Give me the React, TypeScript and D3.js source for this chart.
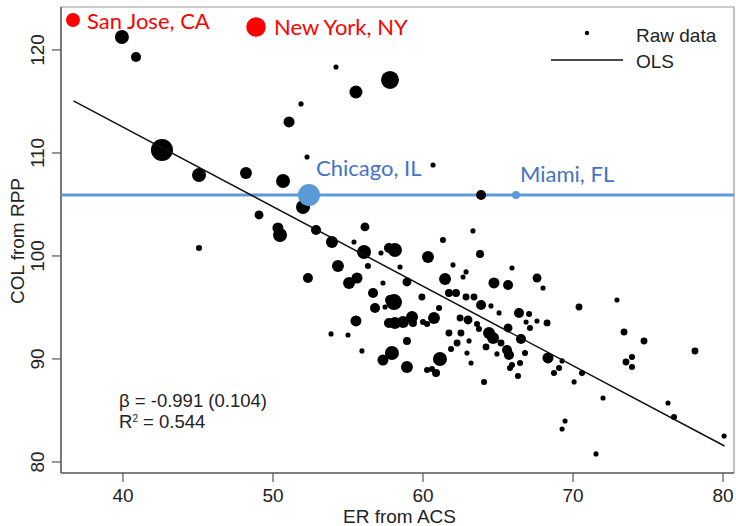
import React from 'react';
import * as d3 from 'd3';

// metro areas: ER from ACS, COL from RPP, weight (dot size)
const erACS = [
  39.93, 40.87, 54.2, 55.53, 51.87, 51.07, 42.6, 52.27, 45.07, 48.2, 50.67, 52.0, 49.07, 50.33, 50.47,
  52.87, 56.13, 55.4, 53.93, 56.07, 45.07, 57.8, 60.67, 63.87, 63.33, 61.33, 58.13, 57.73, 57.2, 60.33,
  63.8, 54.33, 52.33, 55.07, 55.6, 55.53, 53.87, 55.0, 55.93, 56.33, 58.47, 57.33, 58.93, 61.47, 62.0,
  62.87, 62.67, 56.67, 56.8, 57.47, 58.07, 57.8, 59.93, 61.07, 60.73, 57.73, 58.13, 58.67, 59.27, 59.33,
  60.0, 60.27, 58.93, 57.93, 57.33, 58.93, 61.13, 60.27, 60.6, 60.87, 61.73, 62.47, 62.53, 63.0, 63.07,
  62.27, 61.87, 62.93, 63.2, 63.6, 63.73, 61.73, 62.2, 62.87, 63.4, 65.93, 67.6, 68.0, 64.73, 65.67,
  63.87, 64.53, 65.07, 66.4, 67.07, 66.87, 67.6, 67.13, 68.27, 65.67, 66.53, 66.8, 68.33, 69.27, 69.07,
  68.73, 70.6, 70.07, 66.33, 65.8, 65.93, 64.07, 66.47, 70.4, 72.93, 73.4, 74.73, 73.53, 73.93, 73.93,
  78.13, 72.0, 76.33, 76.73, 69.47, 69.27, 71.53, 80.07, 64.4, 64.67, 65.2, 64.2, 64.93, 65.6, 65.73
];
const colRPP = [
  121.26, 119.32, 118.35, 115.92, 114.76, 113.01, 110.29, 109.61, 107.86, 108.06, 107.28, 104.76, 103.98, 102.72, 102.04,
  102.52, 102.82, 101.36, 101.36, 100.39, 100.78, 117.09, 108.83, 105.92, 102.43, 101.55, 100.58, 100.78, 100.29, 99.9,
  100.19, 99.03, 97.86, 97.38, 97.86, 93.69, 92.43, 92.33, 90.78, 99.03, 98.93, 97.38, 97.48, 97.77, 99.13,
  98.45, 97.96, 96.41, 94.95, 95.05, 95.53, 95.73, 96.02, 94.95, 93.98, 93.5, 93.5, 93.59, 94.08, 93.5,
  93.59, 93.4, 91.75, 90.58, 89.9, 89.22, 90.0, 88.93, 89.03, 88.64, 92.52, 93.98, 92.52, 93.79, 91.75,
  91.55, 90.97, 90.58, 89.61, 93.4, 92.91, 96.41, 96.41, 96.02, 96.02, 98.83, 97.86, 96.89, 97.38, 97.18,
  95.24, 95.15, 94.47, 94.47, 94.37, 93.59, 93.69, 93.01, 93.5, 93.01, 91.94, 90.58, 90.1, 89.81, 89.13,
  88.64, 88.64, 87.77, 88.35, 89.13, 89.42, 87.77, 89.61, 95.05, 95.73, 92.62, 91.75, 89.71, 90.19, 89.22,
  90.78, 86.21, 85.73, 84.37, 83.98, 83.2, 80.78, 82.52, 92.52, 92.04, 91.55, 91.17, 90.49, 90.87, 90.39
];
const weight = [
  3.7, 1.9, 0.5, 3.2, 0.5, 2.3, 9.2, 0.5, 3.7, 2.7, 3.7, 3.7, 1.5, 2.3, 3.7,
  1.9, 1.5, 0.5, 2.7, 3.7, 0.7, 6.1, 0.5, 1.9, 0.5, 0.7, 3.7, 1.9, 0.5, 2.7,
  1.2, 2.7, 1.9, 2.7, 2.3, 2.3, 0.5, 0.5, 0.5, 0.7, 0.5, 0.5, 1.5, 2.7, 0.5,
  0.5, 0.5, 1.9, 1.9, 0.5, 4.8, 1.9, 0.9, 0.7, 2.7, 1.9, 2.7, 2.7, 2.7, 1.2,
  0.7, 0.7, 1.2, 3.7, 2.3, 2.7, 3.7, 0.7, 0.7, 1.2, 0.9, 0.9, 0.9, 1.5, 0.5,
  0.9, 0.7, 0.5, 0.5, 0.7, 0.7, 1.2, 1.2, 0.9, 0.9, 0.5, 1.5, 0.5, 2.3, 1.9,
  1.9, 0.5, 0.5, 1.9, 0.7, 0.5, 0.5, 0.7, 0.9, 1.5, 1.9, 0.7, 2.3, 0.5, 0.7,
  0.7, 0.7, 0.5, 0.7, 0.7, 0.7, 0.7, 0.7, 0.9, 0.5, 0.9, 0.9, 0.9, 0.7, 0.7,
  0.9, 0.5, 0.5, 0.7, 0.5, 0.5, 0.5, 0.5, 2.7, 2.7, 0.9, 0.9, 0.5, 1.9, 1.9
];

// highlighted cities
const redCities = ['San Jose, CA', 'New York, NY'];
const redX = [36.67, 48.87];
const redY = [122.91, 122.23];
const redW = [3.7, 7.2];

const blueCities = ['Chicago, IL', 'Miami, FL'];
const blueX = [52.4, 66.2];
const blueW = [9.2, 1.2];
const blueLevel = 105.92;

// OLS fit endpoints
const olsX = [36.7, 80.1];
const olsY = [115.05, 81.55];

const xTicks = [40, 50, 60, 70, 80];
const yTicks = [80, 90, 100, 110, 120];

const W = 736, H = 526;
const L = 61, R = 734, T = 7, B = 473;
const helv = '"Liberation Sans", Arial, Helvetica, sans-serif';
const cal = 'Lato, "Open Sans", sans-serif';

export default function App() {
  const x = d3.scaleLinear().domain([35.87, 80.73]).range([L, R]);
  const y = d3.scaleLinear().domain([78.93, 124.17]).range([B, T]);
  const r = d3.scaleSqrt().domain([0, 10]).range([0, 11.5]);
  const line = d3.line<number>().x((d, i) => x(olsX[i])).y(d => y(d));

  const pts = erACS.map((v, i) => ({ x: v, y: colRPP[i], w: weight[i] }));

  return (
    <svg width={W} height={H} style={{ position: 'absolute', left: 0, top: 0, background: '#fff' }}>
      {/* frame */}
      <line x1={L} x2={R} y1={T} y2={T} stroke="#9a9a9a" strokeWidth={1.2} />
      <line x1={R} x2={R} y1={T} y2={B} stroke="#9a9a9a" strokeWidth={1.2} />
      <line x1={L} x2={R} y1={B} y2={B} stroke="#555" strokeWidth={1.6} />
      <line x1={L} x2={L} y1={T} y2={B} stroke="#555" strokeWidth={1.6} />

      {xTicks.map(t => (
        <g key={'x' + t}>
          <line x1={x(t)} x2={x(t)} y1={B} y2={B + 9} stroke="#555" strokeWidth={1.2} />
          <text x={x(t)} y={502} textAnchor="middle" fontFamily={helv} fontSize={19} fill="#222">{t}</text>
        </g>
      ))}
      {yTicks.map(t => (
        <g key={'y' + t}>
          <line x1={L - 9} x2={L} y1={y(t)} y2={y(t)} stroke="#555" strokeWidth={1.2} />
          <text transform={`translate(44,${y(t)}) rotate(-90)`} textAnchor="middle" fontFamily={helv} fontSize={19} fill="#222">{t}</text>
        </g>
      ))}
      <text x={(L + R) / 2 + 2} y={523} textAnchor="middle" fontFamily={helv} fontSize={19} fill="#222">ER from ACS</text>
      <text transform={`translate(24,241) rotate(-90)`} textAnchor="middle" fontFamily={helv} fontSize={19} fill="#222">COL from RPP</text>

      {/* blue reference line */}
      <line x1={L} x2={R} y1={y(blueLevel)} y2={y(blueLevel)} stroke="#5b9bd5" strokeWidth={3} />

      {/* raw data */}
      {pts.map((p, i) => (
        <circle key={i} cx={x(p.x)} cy={y(p.y)} r={r(p.w)} fill="#000" />
      ))}

      {/* OLS */}
      <path d={line(olsY) || ''} fill="none" stroke="#111" strokeWidth={1.5} />

      {/* highlighted cities */}
      {blueCities.map((c, i) => (
        <circle key={c} cx={x(blueX[i])} cy={y(blueLevel)} r={r(blueW[i])} fill="#5b9bd5" />
      ))}
      <text x={316} y={176} fontFamily={cal} fontSize={22} fill="#4472c4">{blueCities[0]}</text>
      <text x={520} y={182} fontFamily={cal} fontSize={22} fill="#4472c4">{blueCities[1]}</text>
      {redCities.map((c, i) => (
        <g key={c}>
          <circle cx={x(redX[i])} cy={y(redY[i])} r={r(redW[i])} fill="#ff0000" />
          <text x={i === 0 ? 87 : 274} y={i === 0 ? 29 : 35} fontFamily={cal} fontSize={22} fill="#ff0000">{c}</text>
        </g>
      ))}

      {/* legend */}
      <circle cx={587} cy={33} r={2.2} fill="#000" />
      <text x={636} y={42} fontFamily={helv} fontSize={19} fill="#222">Raw data</text>
      <line x1={551} x2={623} y1={60} y2={60} stroke="#111" strokeWidth={1.5} />
      <text x={636} y={68} fontFamily={helv} fontSize={19} fill="#222">OLS</text>

      {/* stats */}
      <text x={119} y={407} fontFamily={helv} fontSize={18.5} fill="#222">β = -0.991 (0.104)</text>
      <text x={119} y={428} fontFamily={helv} fontSize={18.5} fill="#222">
        R<tspan fontSize={10} dy={-6}>2</tspan><tspan dy={6}> = 0.544</tspan>
      </text>
    </svg>
  );
}
